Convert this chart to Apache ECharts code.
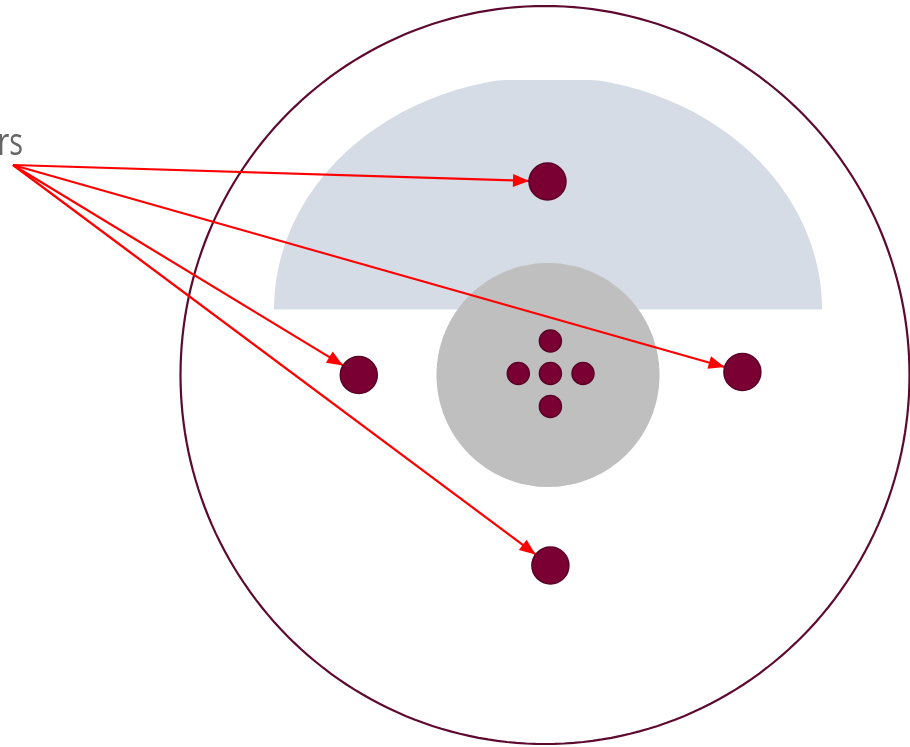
<!DOCTYPE html>
<html>
<head>
<meta charset="utf-8">
<script src="https://cdn.jsdelivr.net/npm/echarts@6/dist/echarts.min.js"></script>
<style>
html,body{margin:0;padding:0;background:#fff;overflow:hidden;}
#main{width:910px;height:747px;}
</style>
</head>
<body>
<div id="main"></div>
<script>
// ---- data ----
// zones: outer boundary, cap-shaped region, inlier core
const zoneNames = ['outer', 'cap', 'core'];
const zoneCX = [545, 548, 548];
const zoneCY = [375, 309.5, 375];
const zoneRX = [364.5, 274, 111.5];
const zoneRY = [369, 233, 112];
const capTopY = 80;

// points
const pointNames = ['Outliers', 'p1', 'p2', 'p3', 'p4', 'c0', 'c1', 'c2', 'c3', 'c4'];
const pointKind  = ['label', 'outlier', 'outlier', 'outlier', 'outlier', 'inlier', 'inlier', 'inlier', 'inlier', 'inlier'];
const pointX = [13, 547.5, 358.8, 742.4, 550.4, 550.4, 550.4, 550.4, 518.3, 583];
const pointY = [165, 181.5, 375, 372, 565.5, 373.5, 341, 406.4, 373.5, 373.5];
const linkSource = 'Outliers';
const linkTargets = ['p1', 'p2', 'p3', 'p4'];

// ---- chart ----
const chart = echarts.init(document.getElementById('main'), null, {renderer: 'canvas'});

const zoneData = zoneNames.map((n, i) => [zoneCX[i], zoneCY[i], zoneRX[i], zoneRY[i], i]);

function renderZone(params, api) {
  const i = api.value(4);
  const c = api.coord([api.value(0), api.value(1)]);
  const r = api.size([api.value(2), api.value(3)]);
  const rx = r[0], ry = r[1];
  const pts = [];
  if (zoneNames[i] === 'cap') {
    const topPx = api.coord([0, capTopY])[1];
    const N = 120;
    for (let k = 0; k <= N; k++) {
      const t = Math.PI * k / N;
      const x = c[0] + rx * Math.cos(t);
      let y = c[1] - ry * Math.sin(t);
      if (y < topPx) y = topPx;
      pts.push([x, y]);
    }
    return {type: 'polygon', shape: {points: pts}, style: {fill: '#d6dce5', stroke: null}};
  }
  const N = 240;
  for (let k = 0; k < N; k++) {
    const t = 2 * Math.PI * k / N;
    pts.push([c[0] + rx * Math.cos(t), c[1] + ry * Math.sin(t)]);
  }
  if (zoneNames[i] === 'outer') {
    return {type: 'polygon', shape: {points: pts}, style: {fill: '#ffffff', stroke: '#5e0a30', lineWidth: 2.2}};
  }
  return {type: 'polygon', shape: {points: pts}, style: {fill: '#bfbfbf', stroke: null}};
}

// label text for the 'label' point, drawn slightly condensed
const labelData = pointNames.map((n, i) => [pointX[i], pointY[i], i]).filter(d => pointKind[d[2]] === 'label');
function renderLabel(params, api) {
  const i = api.value(2);
  const p = api.coord([api.value(0), api.value(1)]);
  return {
    type: 'text',
    x: p[0] + 10, y: p[1] - 20.5,
    scaleX: 0.76,
    style: {
      text: pointNames[i], fontFamily: 'Open Sans', fontSize: 38, fill: '#666666',
      align: 'right', verticalAlign: 'middle'
    }
  };
}

const nodes = pointNames.map((n, i) => {
  const kind = pointKind[i];
  const node = {name: n, value: [pointX[i], pointY[i]]};
  if (kind === 'label') {
    node.symbolSize = 1;
    node.itemStyle = {color: 'rgba(0,0,0,0)', borderWidth: 0};
  } else {
    node.symbolSize = kind === 'outlier' ? 37 : 22;
  }
  return node;
});

const links = linkTargets.map(t => ({source: linkSource, target: t}));

// filled triangle arrowhead whose tip sits at the centre of the symbol box
const arrowHead = 'path://M0,16 L6.5,32 L-6.5,32 Z M-16,0 M16,0';

chart.setOption({
  animation: false,
  backgroundColor: '#ffffff',
  grid: {left: 0, right: 0, top: 0, bottom: 0},
  xAxis: {type: 'value', min: 0, max: 910, show: false},
  yAxis: {type: 'value', min: 0, max: 747, inverse: true, show: false},
  series: [
    {
      type: 'custom', coordinateSystem: 'cartesian2d', renderItem: renderZone,
      data: zoneData, silent: true, z: 1, clip: false
    },
    {
      type: 'custom', coordinateSystem: 'cartesian2d', renderItem: renderLabel,
      data: labelData, silent: true, z: 3, clip: false
    },
    {
      type: 'graph',
      coordinateSystem: 'cartesian2d',
      layout: 'none',
      z: 2,
      symbol: 'circle',
      itemStyle: {color: '#7a0034', borderColor: '#5a0027', borderWidth: 1.5},
      label: {show: false},
      edgeSymbol: ['none', arrowHead],
      edgeSymbolSize: [1, 32],
      lineStyle: {color: '#ff0000', width: 2.2, opacity: 1, curveness: 0},
      emphasis: {disabled: true},
      data: nodes,
      links: links
    }
  ]
});
</script>
</body>
</html>
